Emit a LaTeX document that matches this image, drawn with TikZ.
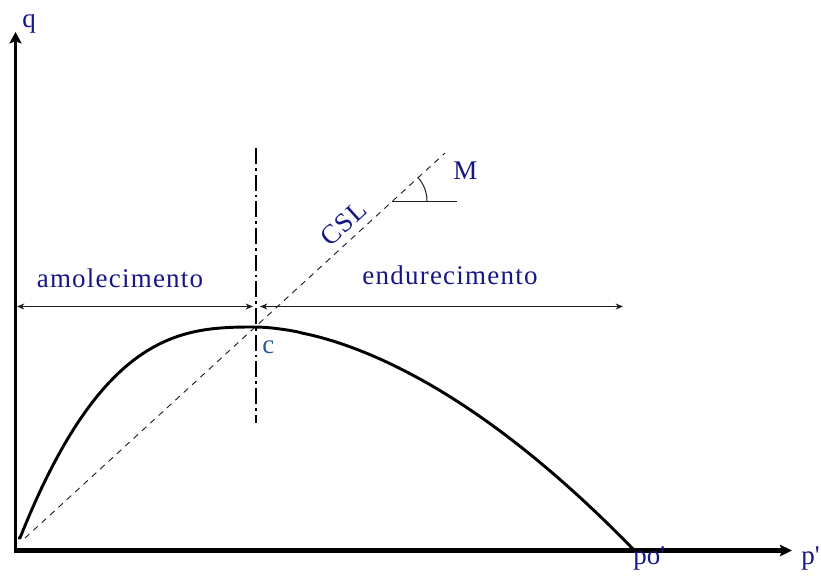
\documentclass[tikz,border=0pt]{standalone}
\usepackage{fontspec}
\setmainfont{Liberation Serif}
\newfontfamily\spacedfont[LetterSpace=4.5]{Liberation Serif}
\usetikzlibrary{arrows.meta}
\definecolor{txtblue}{RGB}{22,22,135}
\definecolor{cblue}{RGB}{40,85,155}
\definecolor{dimgray}{RGB}{30,30,30}
\begin{document}
\begin{tikzpicture}[x=0.75pt,y=-0.75pt,
  lbl/.style={inner sep=0pt, text=txtblue, font=\fontsize{20.25pt}{24pt}\selectfont},
  spaced/.style={inner sep=0pt, text=txtblue, font=\fontsize{20.25pt}{24pt}\spacedfont},
  vaxis/.style={line width=2.5pt, -{Stealth[length=8.5pt,width=9pt,inset=1.5pt]}},
  haxis/.style={line width=3.2pt, -{Stealth[length=9pt,width=8.5pt,inset=1.5pt]}},
  dimarrow/.style={line width=0.75pt, draw=dimgray, {Stealth[length=5.5pt,width=4.5pt]}-{Stealth[length=5.5pt,width=4.5pt]}},
  csldash/.style={line width=0.7pt, draw=dimgray, dash pattern=on 4.5pt off 4pt},
  dashdot/.style={line width=0.8pt, dash pattern=on 12pt off 3pt on 2pt off 3pt},
  yieldcurve/.style={line width=2.2pt, line join=round},
  anglemark/.style={line width=0.75pt, draw=dimgray}
]
\useasboundingbox (0,0) rectangle (821,583);

% axes
\coordinate (vbot) at (15.5,553);
\coordinate (qtip) at (15.5,32);
\coordinate (hleft) at (14,550.5);
\coordinate (ptip) at (792,550.5);
\draw[vaxis] (vbot) -- (qtip);
\draw[haxis] (hleft) -- (ptip);

% CSL line
\coordinate (csl0) at (25,538);
\coordinate (csl1) at (445,153);
\draw[csldash] (csl0) -- (csl1);

% vertical dash-dot line
\coordinate (v0) at (256,148);
\coordinate (v1) at (256,423);
\draw[dashdot] (v0) -- (v1);

% yield curve
\coordinate (cstart) at (18,538);
\coordinate (cbase) at (20,538);
\coordinate (peak) at (255,327);
\draw[yieldcurve] (cstart) -- (cbase)
  -- plot[domain=0:1, samples=80, variable=\u] ({20+235*\u}, {538-211*(1-(1-\u)^2.8)})
  -- plot[domain=0:1, samples=80, variable=\w] ({255+378*\w}, {327+222*(\w^1.75)});

% dimension arrows
\coordinate (dL) at (17,306.5);
\coordinate (dM1) at (253,306.5);
\coordinate (dM2) at (260,306.5);
\coordinate (dR) at (623,306.5);
\draw[dimarrow] (dL) -- (dM1);
\draw[dimarrow] (dM2) -- (dR);

% angle mark
\coordinate (av) at (392,201);
\coordinate (ah) at (457,201);
\draw[anglemark] (av) -- (ah);
\draw[anglemark] (427,201) arc[start angle=0, end angle=-42.5, radius=35];

% labels
\node[lbl, anchor=base west] (q) at (22,27) {q};
\node[lbl, anchor=base west] (p) at (801,564) {p\textquotesingle};
\node[lbl, anchor=base west] (po) at (633,564) {po\textquotesingle};
\node[lbl, anchor=base west] (M) at (453,179) {M};
\node[spaced, rotate=42.5] (csl) at (344,223) {CSL};
\node[spaced, anchor=base] (amol) at (120,287) {amolecimento};
\node[spaced, anchor=base] (endu) at (450,284) {endurecimento};
\node[lbl, text=cblue, anchor=base west] (c) at (262,353) {c};
\end{tikzpicture}
\end{document}
